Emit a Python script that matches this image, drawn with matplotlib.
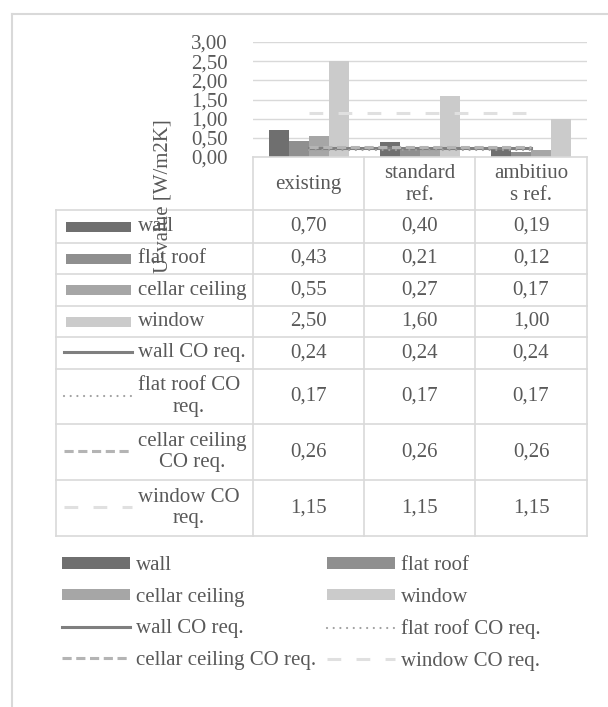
import matplotlib
matplotlib.use("Agg")
import matplotlib.pyplot as plt
import numpy as np

# data
categories = ["existing", "standard\nref.", "ambitiuo\ns ref."]
bar_names = ["wall", "flat roof", "cellar ceiling", "window"]
bar_values = [
    [0.70, 0.40, 0.19],
    [0.43, 0.21, 0.12],
    [0.55, 0.27, 0.17],
    [2.50, 1.60, 1.00],
]
line_names = ["wall CO req.", "flat roof CO req.", "cellar ceiling CO req.", "window CO req."]
line_values = [
    [0.24, 0.24, 0.24],
    [0.17, 0.17, 0.17],
    [0.26, 0.26, 0.26],
    [1.15, 1.15, 1.15],
]
# labels as wrapped in the data table
row_labels = ["wall", "flat roof", "cellar ceiling", "window",
              "wall CO req.", "flat roof CO\nreq.", "cellar ceiling\nCO req.", "window CO\nreq."]
yticks = [0, 0.5, 1.0, 1.5, 2.0, 2.5, 3.0]

txt = "#595959"
grid = "#d9d9d9"
bar_colors = ["#6f6f6f", "#8f8f8f", "#a6a6a6", "#cbcbcb"]
line_colors = ["#7f7f7f", "#a0a0a0", "#b4b4b4", "#e0e0e0"]
line_styles = ["-", (0, (0.01, 3.0)), (0, (3.0, 1.5)), (0, (4.5, 5.0))]
line_widths = [2.2, 1.6, 2.2, 2.2]
caps = ["butt", "round", "butt", "butt"]

plt.rcParams["font.family"] = ["Liberation Serif", "DejaVu Serif"]
plt.rcParams["font.size"] = 15

W, H = 608, 707
fig = plt.figure(figsize=(W / 100, H / 100), dpi=100)

def px(x0, y0, x1, y1):
    return [x0 / W, 1 - y1 / H, (x1 - x0) / W, (y1 - y0) / H]

ax = fig.add_axes(px(253, 42, 587, 157))
x = np.arange(len(categories))
bw = 0.18
bars = []
for i, (name, vals) in enumerate(zip(bar_names, bar_values)):
    b = ax.bar(x + (i - 1.5) * bw, vals, bw, color=bar_colors[i], label=name, zorder=2)
    bars.append(b)
lines = []
for i, (name, vals) in enumerate(zip(line_names, line_values)):
    l, = ax.plot(x, vals, color=line_colors[i], lw=line_widths[i], ls=line_styles[i],
                 label=name, zorder=3, dash_capstyle=caps[i])
    lines.append(l)
ax.set_xlim(-0.5, len(categories) - 0.5)
ax.set_ylim(0, 3)
ax.set_yticks(yticks)
ax.set_yticklabels([f"{v:.2f}".replace(".", ",") for v in yticks], color=txt)
ax.tick_params(axis="y", length=0, pad=18)
ax.set_xticks([])
for s in ax.spines.values():
    s.set_visible(False)
ax.grid(axis="y", color=grid, lw=1, zorder=0)
ax.set_axisbelow(True)

# outer frame
ov = fig.add_axes([0, 0, 1, 1], zorder=-1)
ov.set_xlim(0, W)
ov.set_ylim(H, 0)
ov.axis("off")
ov.plot([12, 12], [14, H], color=grid, lw=1.5)
ov.plot([12, W], [14, 14], color=grid, lw=1.5)

# data table
ov2 = fig.add_axes([0, 0, 1, 1], zorder=5)
ov2.set_xlim(0, W)
ov2.set_ylim(H, 0)
ov2.axis("off")
ov2.patch.set_alpha(0)

col_edges = [253, 364, 475, 587]
row_edges = [210, 243, 274, 306, 337, 369, 424, 480, 536]
tl = 56
lc = grid
lw = 1.2
ov2.plot([253, 587], [157, 157], color=lc, lw=lw)
for cx in col_edges:
    ov2.plot([cx, cx], [157, 536], color=lc, lw=lw)
ov2.plot([tl, tl], [210, 536], color=lc, lw=lw)
for ry in row_edges:
    ov2.plot([tl, 587], [ry, ry], color=lc, lw=lw)
for j, c in enumerate(categories):
    ov2.text((col_edges[j] + col_edges[j + 1]) / 2, (157 + 210) / 2 + 1, c, ha="center",
             va="center", color=txt, linespacing=1.2)

handles = bars + lines
all_vals = bar_values + line_values
for r in range(len(row_labels)):
    y0, y1 = row_edges[r], row_edges[r + 1]
    yc = (y0 + y1) / 2
    if r < 4:
        ov2.add_patch(plt.Rectangle((66, yc - 5), 65, 10, color=bar_colors[r], lw=0))
    else:
        k = r - 4
        ov2.plot([64, 132], [yc - 1, yc - 1], color=line_colors[k], lw=line_widths[k],
                 ls=line_styles[k], dash_capstyle=caps[k])
    ov2.text(138, yc, row_labels[r], ha="left", va="center", color=txt,
             multialignment="center", linespacing=1.2)
    for j in range(len(categories)):
        ov2.text((col_edges[j] + col_edges[j + 1]) / 2, yc,
                 f"{all_vals[r][j]:.2f}".replace(".", ","), ha="center", va="center", color=txt)

ov2.text(163, 196, "U-value [W/m2K]", rotation=90, ha="center", va="center", color=txt)

# bottom legend, row-wise order
order = [0, 2, 4, 6, 1, 3, 5, 7]
hs = [handles[i] for i in order]
leg = fig.legend(hs, [h.get_label() for h in hs],
                 ncol=2, loc="upper left", bbox_to_anchor=(56 / W, 1 - 550 / H),
                 frameon=False, handlelength=3.27, handleheight=0.48, handletextpad=0.29,
                 columnspacing=0.5, labelspacing=0.6, borderaxespad=0, borderpad=0.3)
for t in leg.get_texts():
    t.set_color(txt)

fig.savefig("out.png", dpi=100)
